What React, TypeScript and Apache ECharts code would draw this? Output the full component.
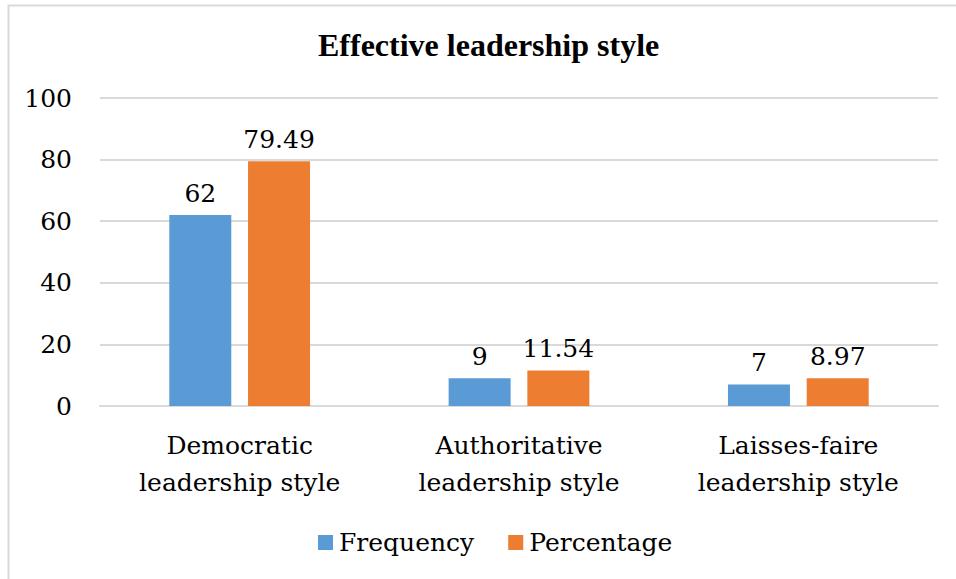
import React, { useEffect, useRef } from "react";
import * as echarts from "echarts";

const categories = [
  "Democratic\nleadership style",
  "Authoritative\nleadership style",
  "Laisses-faire\nleadership style",
];
const frequency = [62, 9, 7];
const percentage = [79.49, 11.54, 8.97];
const seriesNames = ["Frequency", "Percentage"];
const yMin = 0;
const yMax = 100;
const yStep = 20;

const SERIF = "DejaVu Serif";
const SERIF_BOLD = "Liberation Serif";
const TEXT_SIZE = 25;

export default function App() {
  const ref = useRef<HTMLDivElement>(null);

  useEffect(() => {
    if (!ref.current) return;
    const chart = echarts.init(ref.current, null, { renderer: "svg" });
    const labelText = { fontFamily: SERIF, fontSize: TEXT_SIZE, color: "#000" };
    chart.setOption({
      animation: false,
      backgroundColor: "#ffffff",
      title: {
        text: "Effective leadership style",
        left: 313,
        top: 24,
        textStyle: { fontFamily: SERIF_BOLD, fontWeight: "bold", fontSize: 32, color: "#000" },
      },
      graphic: [
        {
          type: "rect",
          shape: { x: 8.5, y: 5.5, width: 1000, height: 700 },
          style: { fill: "none", stroke: "#D9D9D9", lineWidth: 2 },
          silent: true,
          z: -1,
        },
      ],
      legend: {
        data: seriesNames,
        left: 313,
        top: 525,
        icon: "rect",
        itemWidth: 15,
        itemHeight: 15,
        itemGap: 34,
        textStyle: { ...labelText, padding: [0, 0, 0, 1] },
      },
      grid: { left: 100, right: 18, top: 98, bottom: 173 },
      xAxis: {
        type: "category",
        data: categories,
        axisTick: { show: false },
        axisLine: { lineStyle: { color: "#D9D9D9", width: 2 } },
        axisLabel: { ...labelText, lineHeight: 37, margin: 21 },
      },
      yAxis: {
        type: "value",
        min: yMin,
        max: yMax,
        interval: yStep,
        axisLine: { show: false },
        axisTick: { show: false },
        splitLine: { lineStyle: { color: "#D9D9D9", width: 2 } },
        axisLabel: { ...labelText, margin: 28 },
      },
      series: [
        {
          name: seriesNames[0],
          type: "bar",
          data: frequency,
          barWidth: 62,
          barGap: "27%",
          itemStyle: { color: "#5B9BD5" },
          label: { show: true, position: "top", distance: 9, ...labelText },
        },
        {
          name: seriesNames[1],
          type: "bar",
          data: percentage,
          barWidth: 62,
          itemStyle: { color: "#ED7D31" },
          label: { show: true, position: "top", distance: 9, ...labelText },
        },
      ],
    });
    return () => chart.dispose();
  }, []);

  return <div ref={ref} style={{ position: "fixed", left: 0, top: 0, width: 956, height: 579 }} />;
}
